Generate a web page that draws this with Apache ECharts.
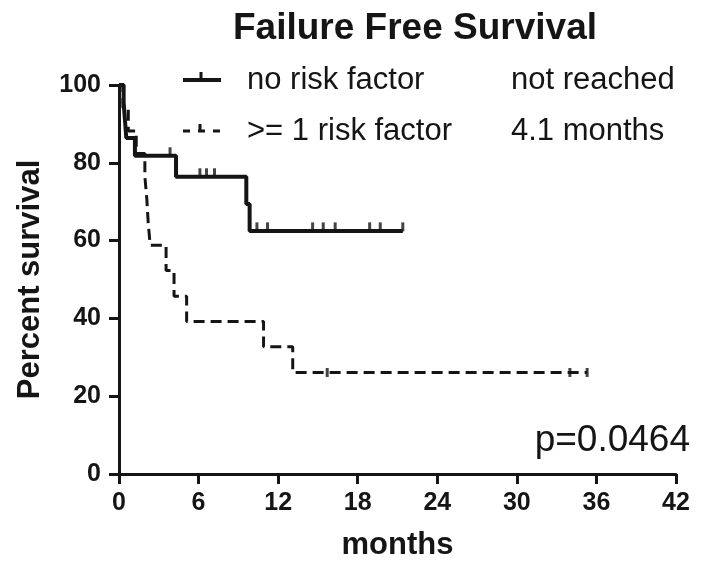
<!DOCTYPE html>
<html>
<head>
<meta charset="utf-8">
<script src="https://cdn.jsdelivr.net/npm/echarts@6/dist/echarts.min.js"></script>
<style>
  html, body { margin: 0; padding: 0; background: #fff; }
  #chart { width: 703px; height: 562px; }
</style>
</head>
<body>
<div id="chart"></div>
<script>
// Kaplan-Meier failure free survival, two groups (months, percent surviving)
const noRiskTimes    = [0, 0.35, 0.45, 0.55, 1.2, 4.3, 9.6, 9.85, 21.4];
const noRiskSurv     = [100, 95.5, 90.9, 86.4, 81.8, 76.4, 69.4, 62.5, 62.5];
const noRiskCensT    = [3.85, 6.1, 6.6, 7.2, 10.4, 11.2, 14.6, 15.4, 16.3, 18.9, 19.7, 21.4];
const noRiskCensS    = [81.8, 76.4, 76.4, 76.4, 62.5, 62.5, 62.5, 62.5, 62.5, 62.5, 62.5, 62.5];

const riskTimes      = [0, 0.3, 0.7, 1.3, 1.95, 2.1, 2.2, 2.35, 3.55, 4.15, 5.1, 10.9, 13.1, 35.3];
const riskSurv       = [100, 94.1, 88.2, 82.4, 76.5, 70.6, 64.7, 58.8, 52.3, 45.7, 39.2, 32.7, 26.1, 26.1];
const riskCensT      = [15.7, 34.0, 35.3];
const riskCensS      = [26.1, 26.1, 26.1];

const xTicks = [0, 6, 12, 18, 24, 30, 36, 42];
const yTicks = [0, 20, 40, 60, 80, 100];

const groupNames = ['no risk factor', '>= 1 risk factor'];
const medians    = ['not reached', '4.1 months'];

const ink = '#151515';
const sans = '"Liberation Sans", Arial, Helvetica, sans-serif';
const pair = (a, b) => a.map((v, i) => [v, b[i]]);

const chart = echarts.init(document.getElementById('chart'));

const axisLabelFont = { color: ink, fontFamily: sans, fontWeight: 'bold', fontSize: 25 };
const axisNameFont  = { color: ink, fontFamily: sans, fontWeight: 'bold', fontSize: 31 };

chart.setOption({
  animation: false,
  backgroundColor: '#fff',
  grid: { left: 119, right: 27, top: 85, bottom: 88, containLabel: false, outerBoundsMode: 'none' },
  xAxis: {
    type: 'value', min: xTicks[0], max: xTicks[xTicks.length - 1], interval: 6,
    name: 'months', nameLocation: 'middle', nameGap: 56,
    nameTextStyle: axisNameFont,
    axisLine: { lineStyle: { color: ink, width: 3 } },
    axisTick: { length: 10, lineStyle: { width: 3, color: ink } },
    axisLabel: Object.assign({ margin: 17 }, axisLabelFont),
    splitLine: { show: false }
  },
  yAxis: {
    type: 'value', min: yTicks[0], max: yTicks[yTicks.length - 1], interval: 20,
    name: 'Percent survival', nameLocation: 'middle', nameGap: 73,
    nameTextStyle: axisNameFont,
    axisLine: { show: true, lineStyle: { color: ink, width: 3 } },
    axisTick: { show: true, length: 10, lineStyle: { width: 3, color: ink } },
    axisLabel: Object.assign({ margin: 18 }, axisLabelFont),
    splitLine: { show: false }
  },
  series: [
    {
      name: groupNames[1], type: 'line', step: 'end', symbol: 'none',
      data: pair(riskTimes, riskSurv),
      lineStyle: { color: ink, width: 3, type: [11, 6] }, z: 3
    },
    {
      name: groupNames[0], type: 'line', step: 'end', symbol: 'none',
      data: pair(noRiskTimes, noRiskSurv),
      lineStyle: { color: ink, width: 4 }, z: 4
    },
    {
      type: 'scatter', data: pair(noRiskCensT, noRiskCensS),
      symbol: 'rect', symbolSize: [3, 9], symbolOffset: [0, -4],
      itemStyle: { color: ink }, z: 5
    },
    {
      type: 'scatter', data: pair(riskCensT, riskCensS),
      symbol: 'rect', symbolSize: [3, 9], symbolOffset: [0, 0],
      itemStyle: { color: ink }, z: 5
    }
  ],
  graphic: [
    {
      type: 'text', x: 415, y: 29,
      style: { text: 'Failure Free Survival', fill: ink, align: 'center', verticalAlign: 'middle',
               font: 'bold 37px ' + sans }
    },
    // legend: solid line with censor tick
    { type: 'line', shape: { x1: 183, y1: 80, x2: 221, y2: 80 }, style: { stroke: ink, lineWidth: 4 } },
    { type: 'line', shape: { x1: 201, y1: 80, x2: 201, y2: 72 }, style: { stroke: ink, lineWidth: 3 } },
    // legend: dashed line with censor tick
    { type: 'line', shape: { x1: 183, y1: 131, x2: 221, y2: 131 }, style: { stroke: ink, lineWidth: 3, lineDash: [7, 8] } },
    { type: 'line', shape: { x1: 200, y1: 131, x2: 200, y2: 124 }, style: { stroke: ink, lineWidth: 3 } },
    {
      type: 'text', x: 247, y: 80,
      style: { text: groupNames[0], fill: ink, verticalAlign: 'middle', font: '31px ' + sans }
    },
    {
      type: 'text', x: 247, y: 131,
      style: { text: groupNames[1], fill: ink, verticalAlign: 'middle', font: '31px ' + sans }
    },
    {
      type: 'text', x: 511, y: 80,
      style: { text: medians[0], fill: ink, verticalAlign: 'middle', font: '31px ' + sans }
    },
    {
      type: 'text', x: 511, y: 131,
      style: { text: medians[1], fill: ink, verticalAlign: 'middle', font: '31px ' + sans }
    },
    {
      type: 'text', x: 690, y: 441,
      style: { text: 'p=0.0464', fill: ink, align: 'right', verticalAlign: 'middle', font: '37px ' + sans }
    }
  ]
});
</script>
</body>
</html>
